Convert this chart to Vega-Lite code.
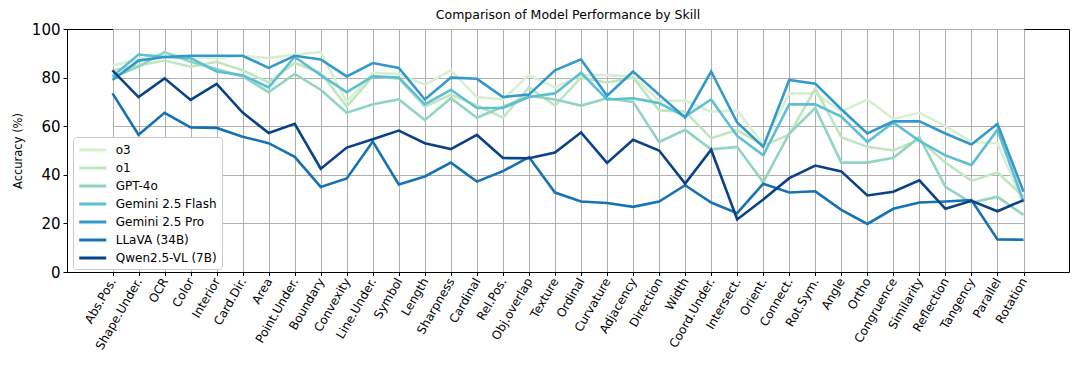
{
  "$schema": "https://vega.github.io/schema/vega-lite/v6.json",
  "width": 1002,
  "height": 243,
  "autosize": {"type": "none"},
  "padding": {"left": 67, "top": 29, "right": 11, "bottom": 99},
  "title": {"text": "Comparison of Model Performance by Skill", "fontSize": 12.5, "fontWeight": "normal", "font": "DejaVu Sans", "color": "black", "offset": 1},
  "datasets": {
    "acc": [
      {"model":"o3","skill":"Abs.Pos.","acc":85},{"model":"o3","skill":"Shape.Under.","acc":87.5},{"model":"o3","skill":"OCR","acc":90},{"model":"o3","skill":"Color","acc":88.5},{"model":"o3","skill":"Interior","acc":88},{"model":"o3","skill":"Card.Dir.","acc":89},{"model":"o3","skill":"Area","acc":88},{"model":"o3","skill":"Point.Under.","acc":89.5},{"model":"o3","skill":"Boundary","acc":90.5},{"model":"o3","skill":"Convexity","acc":70},{"model":"o3","skill":"Line.Under.","acc":82},{"model":"o3","skill":"Symbol","acc":81.5},{"model":"o3","skill":"Length","acc":77},{"model":"o3","skill":"Sharpness","acc":83},{"model":"o3","skill":"Cardinal","acc":72},{"model":"o3","skill":"Rel.Pos.","acc":71},{"model":"o3","skill":"Obj.overlap","acc":81},{"model":"o3","skill":"Texture","acc":76},{"model":"o3","skill":"Ordinal","acc":81},{"model":"o3","skill":"Curvature","acc":81},{"model":"o3","skill":"Adjacency","acc":80.5},{"model":"o3","skill":"Direction","acc":70.5},{"model":"o3","skill":"Width","acc":70.5},{"model":"o3","skill":"Coord.Under.","acc":66},{"model":"o3","skill":"Intersect.","acc":66.5},{"model":"o3","skill":"Orient.","acc":52.5},{"model":"o3","skill":"Connect.","acc":73.5},{"model":"o3","skill":"Rot.Sym.","acc":73.5},{"model":"o3","skill":"Angle","acc":66},{"model":"o3","skill":"Ortho","acc":71},{"model":"o3","skill":"Congruence","acc":63},{"model":"o3","skill":"Similarity","acc":65.5},{"model":"o3","skill":"Reflection","acc":60},{"model":"o3","skill":"Tangency","acc":53.5},{"model":"o3","skill":"Parallel","acc":53},{"model":"o3","skill":"Rotation","acc":28},
      {"model":"o1","skill":"Abs.Pos.","acc":83},{"model":"o1","skill":"Shape.Under.","acc":85},{"model":"o1","skill":"OCR","acc":87},{"model":"o1","skill":"Color","acc":84.5},{"model":"o1","skill":"Interior","acc":86.5},{"model":"o1","skill":"Card.Dir.","acc":83},{"model":"o1","skill":"Area","acc":78},{"model":"o1","skill":"Point.Under.","acc":86},{"model":"o1","skill":"Boundary","acc":82},{"model":"o1","skill":"Convexity","acc":68},{"model":"o1","skill":"Line.Under.","acc":80.5},{"model":"o1","skill":"Symbol","acc":79.5},{"model":"o1","skill":"Length","acc":68},{"model":"o1","skill":"Sharpness","acc":73},{"model":"o1","skill":"Cardinal","acc":68.5},{"model":"o1","skill":"Rel.Pos.","acc":63.5},{"model":"o1","skill":"Obj.overlap","acc":76},{"model":"o1","skill":"Texture","acc":68.5},{"model":"o1","skill":"Ordinal","acc":80},{"model":"o1","skill":"Curvature","acc":78},{"model":"o1","skill":"Adjacency","acc":80},{"model":"o1","skill":"Direction","acc":66.5},{"model":"o1","skill":"Width","acc":66},{"model":"o1","skill":"Coord.Under.","acc":55},{"model":"o1","skill":"Intersect.","acc":58.5},{"model":"o1","skill":"Orient.","acc":52},{"model":"o1","skill":"Connect.","acc":56.5},{"model":"o1","skill":"Rot.Sym.","acc":75.5},{"model":"o1","skill":"Angle","acc":55.5},{"model":"o1","skill":"Ortho","acc":51.5},{"model":"o1","skill":"Congruence","acc":50},{"model":"o1","skill":"Similarity","acc":54.5},{"model":"o1","skill":"Reflection","acc":45},{"model":"o1","skill":"Tangency","acc":37.5},{"model":"o1","skill":"Parallel","acc":41},{"model":"o1","skill":"Rotation","acc":31},
      {"model":"GPT-4o","skill":"Abs.Pos.","acc":80},{"model":"GPT-4o","skill":"Shape.Under.","acc":84.5},{"model":"GPT-4o","skill":"OCR","acc":90.5},{"model":"GPT-4o","skill":"Color","acc":86.5},{"model":"GPT-4o","skill":"Interior","acc":83.5},{"model":"GPT-4o","skill":"Card.Dir.","acc":80.5},{"model":"GPT-4o","skill":"Area","acc":74},{"model":"GPT-4o","skill":"Point.Under.","acc":81.5},{"model":"GPT-4o","skill":"Boundary","acc":75},{"model":"GPT-4o","skill":"Convexity","acc":65.5},{"model":"GPT-4o","skill":"Line.Under.","acc":69},{"model":"GPT-4o","skill":"Symbol","acc":71},{"model":"GPT-4o","skill":"Length","acc":62.5},{"model":"GPT-4o","skill":"Sharpness","acc":71.5},{"model":"GPT-4o","skill":"Cardinal","acc":63.5},{"model":"GPT-4o","skill":"Rel.Pos.","acc":68},{"model":"GPT-4o","skill":"Obj.overlap","acc":72.5},{"model":"GPT-4o","skill":"Texture","acc":71},{"model":"GPT-4o","skill":"Ordinal","acc":68.5},{"model":"GPT-4o","skill":"Curvature","acc":71.5},{"model":"GPT-4o","skill":"Adjacency","acc":70},{"model":"GPT-4o","skill":"Direction","acc":53.5},{"model":"GPT-4o","skill":"Width","acc":58.5},{"model":"GPT-4o","skill":"Coord.Under.","acc":50.5},{"model":"GPT-4o","skill":"Intersect.","acc":51.5},{"model":"GPT-4o","skill":"Orient.","acc":37},{"model":"GPT-4o","skill":"Connect.","acc":57},{"model":"GPT-4o","skill":"Rot.Sym.","acc":67.5},{"model":"GPT-4o","skill":"Angle","acc":45},{"model":"GPT-4o","skill":"Ortho","acc":45},{"model":"GPT-4o","skill":"Congruence","acc":47},{"model":"GPT-4o","skill":"Similarity","acc":55.5},{"model":"GPT-4o","skill":"Reflection","acc":35},{"model":"GPT-4o","skill":"Tangency","acc":28.5},{"model":"GPT-4o","skill":"Parallel","acc":31},{"model":"GPT-4o","skill":"Rotation","acc":23.5},
      {"model":"Gemini 2.5 Flash","skill":"Abs.Pos.","acc":80.5},{"model":"Gemini 2.5 Flash","skill":"Shape.Under.","acc":89.5},{"model":"Gemini 2.5 Flash","skill":"OCR","acc":88.5},{"model":"Gemini 2.5 Flash","skill":"Color","acc":88},{"model":"Gemini 2.5 Flash","skill":"Interior","acc":82.5},{"model":"Gemini 2.5 Flash","skill":"Card.Dir.","acc":81},{"model":"Gemini 2.5 Flash","skill":"Area","acc":76},{"model":"Gemini 2.5 Flash","skill":"Point.Under.","acc":88.5},{"model":"Gemini 2.5 Flash","skill":"Boundary","acc":81},{"model":"Gemini 2.5 Flash","skill":"Convexity","acc":74},{"model":"Gemini 2.5 Flash","skill":"Line.Under.","acc":80.5},{"model":"Gemini 2.5 Flash","skill":"Symbol","acc":80},{"model":"Gemini 2.5 Flash","skill":"Length","acc":69},{"model":"Gemini 2.5 Flash","skill":"Sharpness","acc":75},{"model":"Gemini 2.5 Flash","skill":"Cardinal","acc":67.5},{"model":"Gemini 2.5 Flash","skill":"Rel.Pos.","acc":67.5},{"model":"Gemini 2.5 Flash","skill":"Obj.overlap","acc":72},{"model":"Gemini 2.5 Flash","skill":"Texture","acc":73.5},{"model":"Gemini 2.5 Flash","skill":"Ordinal","acc":82},{"model":"Gemini 2.5 Flash","skill":"Curvature","acc":71},{"model":"Gemini 2.5 Flash","skill":"Adjacency","acc":71.5},{"model":"Gemini 2.5 Flash","skill":"Direction","acc":69.5},{"model":"Gemini 2.5 Flash","skill":"Width","acc":64},{"model":"Gemini 2.5 Flash","skill":"Coord.Under.","acc":71},{"model":"Gemini 2.5 Flash","skill":"Intersect.","acc":56},{"model":"Gemini 2.5 Flash","skill":"Orient.","acc":48},{"model":"Gemini 2.5 Flash","skill":"Connect.","acc":69},{"model":"Gemini 2.5 Flash","skill":"Rot.Sym.","acc":69},{"model":"Gemini 2.5 Flash","skill":"Angle","acc":64},{"model":"Gemini 2.5 Flash","skill":"Ortho","acc":53.5},{"model":"Gemini 2.5 Flash","skill":"Congruence","acc":61.5},{"model":"Gemini 2.5 Flash","skill":"Similarity","acc":54},{"model":"Gemini 2.5 Flash","skill":"Reflection","acc":48},{"model":"Gemini 2.5 Flash","skill":"Tangency","acc":44},{"model":"Gemini 2.5 Flash","skill":"Parallel","acc":58.5},{"model":"Gemini 2.5 Flash","skill":"Rotation","acc":29},
      {"model":"Gemini 2.5 Pro","skill":"Abs.Pos.","acc":79},{"model":"Gemini 2.5 Pro","skill":"Shape.Under.","acc":87},{"model":"Gemini 2.5 Pro","skill":"OCR","acc":88.5},{"model":"Gemini 2.5 Pro","skill":"Color","acc":89},{"model":"Gemini 2.5 Pro","skill":"Interior","acc":89},{"model":"Gemini 2.5 Pro","skill":"Card.Dir.","acc":89},{"model":"Gemini 2.5 Pro","skill":"Area","acc":84},{"model":"Gemini 2.5 Pro","skill":"Point.Under.","acc":89},{"model":"Gemini 2.5 Pro","skill":"Boundary","acc":87.5},{"model":"Gemini 2.5 Pro","skill":"Convexity","acc":80.5},{"model":"Gemini 2.5 Pro","skill":"Line.Under.","acc":86},{"model":"Gemini 2.5 Pro","skill":"Symbol","acc":84},{"model":"Gemini 2.5 Pro","skill":"Length","acc":71},{"model":"Gemini 2.5 Pro","skill":"Sharpness","acc":80},{"model":"Gemini 2.5 Pro","skill":"Cardinal","acc":79.5},{"model":"Gemini 2.5 Pro","skill":"Rel.Pos.","acc":72},{"model":"Gemini 2.5 Pro","skill":"Obj.overlap","acc":73},{"model":"Gemini 2.5 Pro","skill":"Texture","acc":83},{"model":"Gemini 2.5 Pro","skill":"Ordinal","acc":87.5},{"model":"Gemini 2.5 Pro","skill":"Curvature","acc":72.5},{"model":"Gemini 2.5 Pro","skill":"Adjacency","acc":82.5},{"model":"Gemini 2.5 Pro","skill":"Direction","acc":73},{"model":"Gemini 2.5 Pro","skill":"Width","acc":63.5},{"model":"Gemini 2.5 Pro","skill":"Coord.Under.","acc":82.5},{"model":"Gemini 2.5 Pro","skill":"Intersect.","acc":61.5},{"model":"Gemini 2.5 Pro","skill":"Orient.","acc":51.5},{"model":"Gemini 2.5 Pro","skill":"Connect.","acc":79},{"model":"Gemini 2.5 Pro","skill":"Rot.Sym.","acc":77.5},{"model":"Gemini 2.5 Pro","skill":"Angle","acc":67},{"model":"Gemini 2.5 Pro","skill":"Ortho","acc":57},{"model":"Gemini 2.5 Pro","skill":"Congruence","acc":62},{"model":"Gemini 2.5 Pro","skill":"Similarity","acc":62},{"model":"Gemini 2.5 Pro","skill":"Reflection","acc":57},{"model":"Gemini 2.5 Pro","skill":"Tangency","acc":52.5},{"model":"Gemini 2.5 Pro","skill":"Parallel","acc":61},{"model":"Gemini 2.5 Pro","skill":"Rotation","acc":33},
      {"model":"LLaVA (34B)","skill":"Abs.Pos.","acc":73.5},{"model":"LLaVA (34B)","skill":"Shape.Under.","acc":56.5},{"model":"LLaVA (34B)","skill":"OCR","acc":65.5},{"model":"LLaVA (34B)","skill":"Color","acc":59.5},{"model":"LLaVA (34B)","skill":"Interior","acc":59.3},{"model":"LLaVA (34B)","skill":"Card.Dir.","acc":55.7},{"model":"LLaVA (34B)","skill":"Area","acc":53},{"model":"LLaVA (34B)","skill":"Point.Under.","acc":47.4},{"model":"LLaVA (34B)","skill":"Boundary","acc":35},{"model":"LLaVA (34B)","skill":"Convexity","acc":38.5},{"model":"LLaVA (34B)","skill":"Line.Under.","acc":53.7},{"model":"LLaVA (34B)","skill":"Symbol","acc":36},{"model":"LLaVA (34B)","skill":"Length","acc":39.3},{"model":"LLaVA (34B)","skill":"Sharpness","acc":45},{"model":"LLaVA (34B)","skill":"Cardinal","acc":37.2},{"model":"LLaVA (34B)","skill":"Rel.Pos.","acc":41.5},{"model":"LLaVA (34B)","skill":"Obj.overlap","acc":47.3},{"model":"LLaVA (34B)","skill":"Texture","acc":32.7},{"model":"LLaVA (34B)","skill":"Ordinal","acc":29},{"model":"LLaVA (34B)","skill":"Curvature","acc":28.4},{"model":"LLaVA (34B)","skill":"Adjacency","acc":26.8},{"model":"LLaVA (34B)","skill":"Direction","acc":29},{"model":"LLaVA (34B)","skill":"Width","acc":35.7},{"model":"LLaVA (34B)","skill":"Coord.Under.","acc":28.6},{"model":"LLaVA (34B)","skill":"Intersect.","acc":24.2},{"model":"LLaVA (34B)","skill":"Orient.","acc":36.3},{"model":"LLaVA (34B)","skill":"Connect.","acc":32.7},{"model":"LLaVA (34B)","skill":"Rot.Sym.","acc":33.2},{"model":"LLaVA (34B)","skill":"Angle","acc":25.6},{"model":"LLaVA (34B)","skill":"Ortho","acc":19.8},{"model":"LLaVA (34B)","skill":"Congruence","acc":26},{"model":"LLaVA (34B)","skill":"Similarity","acc":28.6},{"model":"LLaVA (34B)","skill":"Reflection","acc":29},{"model":"LLaVA (34B)","skill":"Tangency","acc":29.6},{"model":"LLaVA (34B)","skill":"Parallel","acc":13.4},{"model":"LLaVA (34B)","skill":"Rotation","acc":13.3},
      {"model":"Qwen2.5-VL (7B)","skill":"Abs.Pos.","acc":83},{"model":"Qwen2.5-VL (7B)","skill":"Shape.Under.","acc":72},{"model":"Qwen2.5-VL (7B)","skill":"OCR","acc":79.7},{"model":"Qwen2.5-VL (7B)","skill":"Color","acc":70.8},{"model":"Qwen2.5-VL (7B)","skill":"Interior","acc":77.4},{"model":"Qwen2.5-VL (7B)","skill":"Card.Dir.","acc":65.6},{"model":"Qwen2.5-VL (7B)","skill":"Area","acc":57.2},{"model":"Qwen2.5-VL (7B)","skill":"Point.Under.","acc":61},{"model":"Qwen2.5-VL (7B)","skill":"Boundary","acc":42.5},{"model":"Qwen2.5-VL (7B)","skill":"Convexity","acc":51.2},{"model":"Qwen2.5-VL (7B)","skill":"Line.Under.","acc":54.6},{"model":"Qwen2.5-VL (7B)","skill":"Symbol","acc":58.2},{"model":"Qwen2.5-VL (7B)","skill":"Length","acc":53},{"model":"Qwen2.5-VL (7B)","skill":"Sharpness","acc":50.6},{"model":"Qwen2.5-VL (7B)","skill":"Cardinal","acc":56.4},{"model":"Qwen2.5-VL (7B)","skill":"Rel.Pos.","acc":46.9},{"model":"Qwen2.5-VL (7B)","skill":"Obj.overlap","acc":46.8},{"model":"Qwen2.5-VL (7B)","skill":"Texture","acc":49.2},{"model":"Qwen2.5-VL (7B)","skill":"Ordinal","acc":57.4},{"model":"Qwen2.5-VL (7B)","skill":"Curvature","acc":44.9},{"model":"Qwen2.5-VL (7B)","skill":"Adjacency","acc":54.4},{"model":"Qwen2.5-VL (7B)","skill":"Direction","acc":50},{"model":"Qwen2.5-VL (7B)","skill":"Width","acc":36.4},{"model":"Qwen2.5-VL (7B)","skill":"Coord.Under.","acc":50.3},{"model":"Qwen2.5-VL (7B)","skill":"Intersect.","acc":21.6},{"model":"Qwen2.5-VL (7B)","skill":"Orient.","acc":29.8},{"model":"Qwen2.5-VL (7B)","skill":"Connect.","acc":38.6},{"model":"Qwen2.5-VL (7B)","skill":"Rot.Sym.","acc":43.8},{"model":"Qwen2.5-VL (7B)","skill":"Angle","acc":41.4},{"model":"Qwen2.5-VL (7B)","skill":"Ortho","acc":31.5},{"model":"Qwen2.5-VL (7B)","skill":"Congruence","acc":33},{"model":"Qwen2.5-VL (7B)","skill":"Similarity","acc":37.7},{"model":"Qwen2.5-VL (7B)","skill":"Reflection","acc":26},{"model":"Qwen2.5-VL (7B)","skill":"Tangency","acc":29.3},{"model":"Qwen2.5-VL (7B)","skill":"Parallel","acc":25},{"model":"Qwen2.5-VL (7B)","skill":"Rotation","acc":29.6}
    ]
  },
  "data": {"name": "acc"},
  "mark": {"type": "line", "strokeWidth": 2.6, "strokeCap": "butt", "strokeJoin": "miter"},
  "encoding": {
    "x": {
      "field": "skill", "type": "ordinal", "sort": null,
      "scale": {"type": "point", "padding": 0, "range": [45.5, 956.5]},
      "axis": {"title": null, "labelAngle": -60, "labelAlign": "right", "labelBaseline": "middle", "labelFontSize": 12, "labelPadding": 3, "tickSize": 3.5, "grid": true, "labelOverlap": false}
    },
    "y": {
      "field": "acc", "type": "quantitative",
      "scale": {"domain": [0, 100], "nice": false, "zero": true},
      "axis": {"title": "Accuracy (%)", "titleFontSize": 11.5, "titleFontWeight": "normal", "titlePadding": 8, "labelFontSize": 15, "values": [0, 20, 40, 60, 80, 100], "tickSize": 4, "labelPadding": 3, "grid": true}
    },
    "color": {
      "field": "model", "type": "nominal", "sort": null,
      "scale": {
        "domain": ["o3", "o1", "GPT-4o", "Gemini 2.5 Flash", "Gemini 2.5 Pro", "LLaVA (34B)", "Qwen2.5-VL (7B)"],
        "range": ["#d8f0d2", "#c0e6c0", "#93d4c0", "#5ebfd2", "#3399cb", "#1672b2", "#0b4287"]
      },
      "legend": {
        "title": null, "orient": "none", "legendX": 6, "legendY": 108,
        "fillColor": "white", "strokeColor": "#cccccc", "cornerRadius": 3, "padding": 4.5,
        "symbolType": "M-2,0L2,0", "symbolStrokeWidth": 3, "symbolSize": 182, "symbolOffset": 6.75,
        "labelFontSize": 12, "labelOffset": 14.5, "rowPadding": 3, "labelColor": "black"
      }
    }
  },
  "config": {
    "font": "DejaVu Sans",
    "view": {"stroke": "black", "strokeWidth": 1},
    "axis": {"gridColor": "#b0b0b0", "gridWidth": 1, "gridOpacity": 1, "domainColor": "black", "tickColor": "black", "labelColor": "black", "titleColor": "black", "labelFont": "DejaVu Sans", "titleFont": "DejaVu Sans"},
    "legend": {"labelFont": "DejaVu Sans"}
  }
}
